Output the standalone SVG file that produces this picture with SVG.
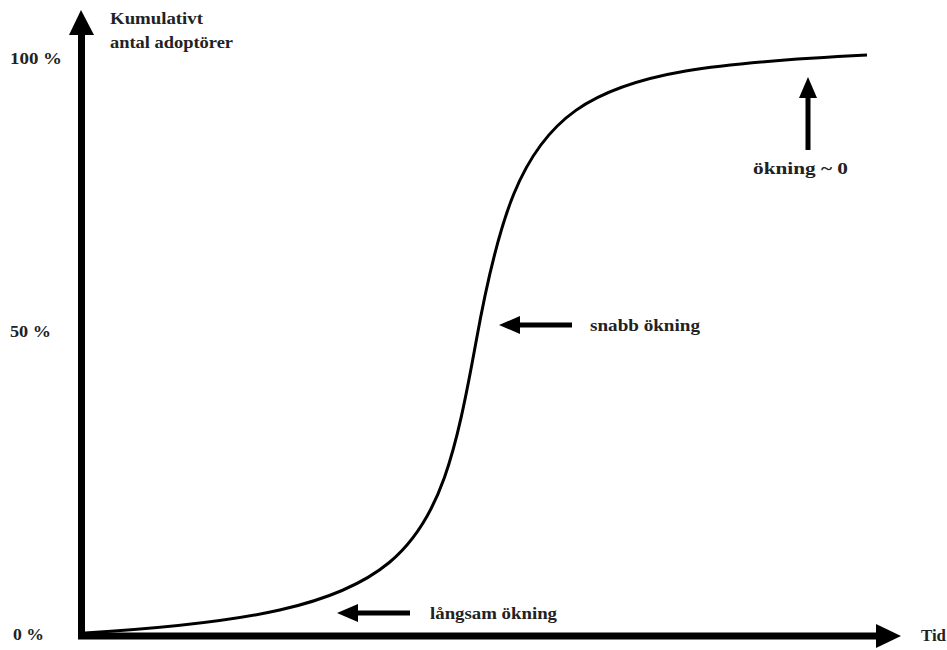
<svg xmlns="http://www.w3.org/2000/svg" width="947" height="650" viewBox="0 0 947 650">
<defs>
<style>
.t{font-family:"Liberation Serif","Times New Roman",serif;font-weight:bold;font-size:17px;fill:#222}
.ax{stroke:#000;stroke-width:7;fill:none}
.ar{stroke:#000;stroke-width:5;fill:none}
</style>
</defs>
<rect width="947" height="650" fill="#fff"/>
<g id="axes">
<path class="ax" d="M81.5 30 V636 H880"/>
<polygon points="81,10 69,35 94,35" fill="#000"/>
<polygon points="901,636 876,624 876,648" fill="#000"/>
</g>
<g id="curve">
<path d="M85 633 C415 613,436 562,476 342 C521 92,567 70,867 55" fill="none" stroke="#000" stroke-width="3"/>
</g>
<g id="connectors">
<path class="ar" d="M808 150 V94"/>
<polygon points="808,77 799,98 817,98" fill="#000"/>
<path class="ar" d="M572 325 H516"/>
<polygon points="499,325 520,316 520,334" fill="#000"/>
<path class="ar" d="M410 613 H354"/>
<polygon points="337,613 358,604 358,622" fill="#000"/>
</g>
<g id="labels">
<text class="t" x="110" y="24" textLength="93" lengthAdjust="spacingAndGlyphs">Kumulativt</text>
<text class="t" x="110" y="48" textLength="123" lengthAdjust="spacingAndGlyphs">antal adoptörer</text>
<text class="t" x="10" y="64" textLength="52" lengthAdjust="spacingAndGlyphs">100 %</text>
<text class="t" x="10" y="337" textLength="41" lengthAdjust="spacingAndGlyphs">50 %</text>
<text class="t" x="13" y="640" textLength="31" lengthAdjust="spacingAndGlyphs">0 %</text>
<text class="t" x="921" y="641" textLength="25" lengthAdjust="spacingAndGlyphs">Tid</text>
<text class="t" x="753" y="174" textLength="95" lengthAdjust="spacingAndGlyphs">ökning ~ 0</text>
<text class="t" x="590" y="331" textLength="110" lengthAdjust="spacingAndGlyphs">snabb ökning</text>
<text class="t" x="430" y="619" textLength="127" lengthAdjust="spacingAndGlyphs">långsam ökning</text>
</g>
</svg>
